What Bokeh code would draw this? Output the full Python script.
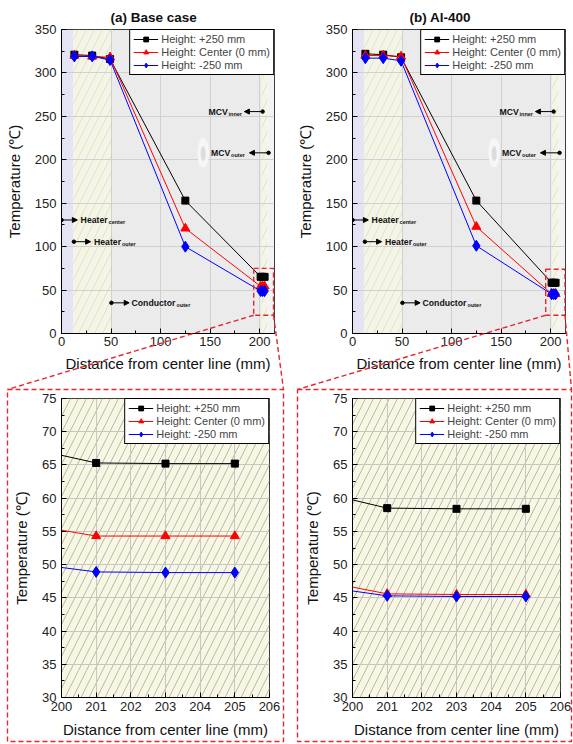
from bokeh.plotting import figure
from bokeh.models import (Range1d, FixedTicker, Legend, LegendItem, Label, Arrow,
                          NormalHead, BoxAnnotation, GridBox)
from bokeh.embed import file_html
from bokeh.resources import INLINE

# ---------------- data ----------------
dist_mm = [13, 31, 49, 125, 201, 203, 205]

base_plus250 = [321, 320, 316, 153, 65.3, 65.2, 65.2]
base_center = [320, 319, 318, 121, 54.3, 54.3, 54.3]
base_minus250 = [319, 319, 315, 100, 48.9, 48.8, 48.8]

al_plus250 = [322, 321, 318, 153, 58.5, 58.4, 58.4]
al_center = [320, 320, 319, 123, 45.6, 45.5, 45.5]
al_minus250 = [317, 317, 314, 101, 45.3, 45.2, 45.2]

series_labels = ["Height: +250 mm", "Height: Center (0 mm)", "Height: -250 mm"]
series_colors = ["black", "red", "blue"]
series_markers = ["square", "triangle", "diamond"]
panel_titles = ["(a) Base case", "(b) Al-400"]

top_x_range = [0, 215]
top_y_range = [0, 350]
top_x_ticks = [0, 50, 100, 150, 200]
top_x_minor = [25, 75, 125, 175]
top_y_ticks = [0, 50, 100, 150, 200, 250, 300, 350]
top_y_minor = [25, 75, 125, 175, 225, 275, 325]
zoom_x_range = [200, 206]
zoom_y_range = [30, 75]
zoom_x_ticks = [200, 201, 202, 203, 204, 205, 206]
zoom_x_minor = [200.5, 201.5, 202.5, 203.5, 204.5, 205.5]
zoom_y_ticks = [30, 35, 40, 45, 50, 55, 60, 65, 70, 75]
zoom_y_minor = [32.5, 37.5, 42.5, 47.5, 52.5, 57.5, 62.5, 67.5, 72.5]

# material regions along the radius (mm)
region_left = [0, 12, 50, 202, 208]
region_right = [12, 50, 202, 208, 215]
region_kind = ["heater_core", "heater", "gap", "mcv", "outside"]

# zoomed window marked on the overview plots (mm, degC)
zoom_box_left = [194, 195]
zoom_box_right = [214, 214.5]
zoom_box_bottom = [21, 21]
zoom_box_top = [75, 74]

# annotation labels
ann_main = ["Heater", "Heater", "Conductor", "MCV", "MCV"]
ann_sub = ["center", "outer", "outer", "inner", "outer"]
ann_dot_x = [0, 12.5, 50.4, 203, 209]
ann_y = [130.7, 105.7, 35.3, 255.5, 208]
ann_head_x = [16, 29.4, 68.3, 184.6, 189.7]
ann_text_x = [19.3, 32.8, 70.7, 148.4, 151]

FONT = "Liberation Sans"
RED = "#e8262a"
DASH = "5 3"

# ---------------- page geometry ----------------
PAGE_W, PAGE_H = 573, 744
COL_W = [287, 286]
TOP_H, BOT_H = 385, 359
TOP_BORDER = [(61, 13), (65, 8)]       # left, right
BOT_BORDER = [(61, 18), (65, 13)]
TOP_TB = (29, 52)                      # top, bottom
BOT_TB = (13, 47)


def style_axes(p, x_ticks, x_minor, y_ticks, y_minor, xl_stand, xa_stand, ya_stand):
    p.xaxis.ticker = FixedTicker(ticks=x_ticks, minor_ticks=x_minor)
    p.yaxis.ticker = FixedTicker(ticks=y_ticks, minor_ticks=y_minor)
    for ax in (p.xaxis[0], p.yaxis[0]):
        ax.major_tick_in = 5
        ax.major_tick_out = 0
        ax.minor_tick_in = 3
        ax.minor_tick_out = 0
        ax.axis_line_color = "black"
        ax.major_tick_line_color = "black"
        ax.minor_tick_line_color = "black"
        ax.major_label_text_font = FONT
        ax.major_label_text_font_size = "13px"
        ax.major_label_text_color = "#222222"
        ax.axis_label_text_font = FONT
        ax.axis_label_text_font_size = "15px"
        ax.axis_label_text_font_style = "normal"
        ax.axis_label_text_color = "#111111"
    p.xaxis.major_label_standoff = xl_stand
    p.xaxis.axis_label_standoff = xa_stand
    p.yaxis.major_label_standoff = 5
    p.yaxis.axis_label_standoff = ya_stand
    p.xaxis.axis_label = "Distance from center line (mm)"
    p.yaxis.axis_label = "Temperature (\u2103)"
    p.outline_line_color = "black"
    p.outline_line_width = 1
    p.outline_line_alpha = 1
    p.grid.grid_line_color = "#d0d0d0"
    p.grid.grid_line_width = 1


def add_series(p, ys_list):
    items = []
    sizes = {"square": 7, "triangle": 9, "diamond": 11}
    for ys, lab, col, mk in zip(ys_list, series_labels, series_colors, series_markers):
        r_line = p.line(dist_mm, ys, line_color=col, line_width=1)
        r_pt = p.scatter(dist_mm, ys, marker=mk, size=sizes[mk], fill_color=col, line_color=col)
        items.append(LegendItem(label=lab, renderers=[r_line, r_pt]))
    leg = Legend(items=items, location="top_right", margin=0, padding=3, spacing=1,
                 label_text_font=FONT, label_text_font_size="11px",
                 label_height=12, glyph_height=12, glyph_width=25, label_standoff=3,
                 border_line_color="black", border_line_width=1, border_line_alpha=1,
                 background_fill_color="white", background_fill_alpha=1)
    p.add_layout(leg)


def make_top(idx, ys_list):
    bl, br = TOP_BORDER[idx]
    p = figure(width=COL_W[idx], height=TOP_H,
               x_range=Range1d(*top_x_range), y_range=Range1d(*top_y_range),
               min_border_left=bl, min_border_right=br,
               min_border_top=TOP_TB[0], min_border_bottom=TOP_TB[1],
               output_backend="svg", toolbar_location=None)
    p.frame_align = False
    style_axes(p, top_x_ticks, top_x_minor, top_y_ticks, top_y_minor, 3, 6, 9)

    fills = {"heater_core": "#e4e4f4", "heater": "#f5f5e6", "gap": "#ebebeb",
             "mcv": "#f5f5e6", "outside": "#f3f3f3"}
    for l, r, k in zip(region_left, region_right, region_kind):
        hatch = "/" if k in ("heater", "mcv") else " "
        p.quad(left=l, right=r, bottom=top_y_range[0], top=top_y_range[1],
               fill_color=fills[k], line_color=None,
               hatch_pattern=hatch, hatch_color="#dcdccb", hatch_scale=16, hatch_weight=0.8,
               level="image")
    # faint oval artefact of the original figure
    p.ellipse(x=143, y=208, width=12, height=34, fill_color="#f6f6f6", line_color=None)
    p.ellipse(x=143, y=207, width=5, height=17, fill_color="#dcdcdc", line_color=None)

    add_series(p, ys_list)

    for main, sub, dx, y, hx, tx in zip(ann_main, ann_sub, ann_dot_x, ann_y, ann_head_x, ann_text_x):
        p.add_layout(Arrow(x_start=dx, y_start=y, x_end=hx, y_end=y, line_color="black",
                           line_width=1, end=NormalHead(size=5, fill_color="black",
                                                        line_color="black")))
        p.scatter([dx], [y], size=3.5, color="black")
        main_w = {"Heater": 28, "Conductor": 45, "MCV": 20}[main]
        p.add_layout(Label(x=tx, y=y, text=main, text_font=FONT, text_font_style="bold",
                           text_font_size="8.7px", text_baseline="middle", text_color="#111111"))
        p.add_layout(Label(x=tx, y=y, x_offset=main_w, y_offset=-2, text=sub, text_font=FONT,
                           text_font_style="bold", text_font_size="5.5px",
                           text_baseline="middle", text_color="#111111"))

    p.title.text = panel_titles[idx]
    p.title.text_font = FONT
    p.title.text_font_style = "bold"
    p.title.text_font_size = "13.5px"
    p.title.text_color = "#111111"
    p.title.align = "left"
    p.title.offset = 49 if idx == 0 else 57
    p.title.standoff = 9

    p.add_layout(BoxAnnotation(left=zoom_box_left[idx], right=zoom_box_right[idx],
                               bottom=zoom_box_bottom[idx], top=zoom_box_top[idx],
                               fill_alpha=0, line_color=RED, line_alpha=1,
                               line_dash=DASH, line_width=1.4, level="overlay"))
    return p


def make_zoom(idx, ys_list):
    bl, br = BOT_BORDER[idx]
    p = figure(width=COL_W[idx], height=BOT_H,
               x_range=Range1d(*zoom_x_range), y_range=Range1d(*zoom_y_range),
               min_border_left=bl, min_border_right=br,
               min_border_top=BOT_TB[0], min_border_bottom=BOT_TB[1],
               output_backend="svg", toolbar_location=None)
    p.frame_align = False
    style_axes(p, zoom_x_ticks, zoom_x_minor, zoom_y_ticks, zoom_y_minor, 4, 7, 9)
    p.grid.grid_line_color = "#c6c6c2"
    p.quad(left=zoom_x_range[0], right=zoom_x_range[1], bottom=zoom_y_range[0],
           top=zoom_y_range[1], fill_color="#f7f7e3", line_color=None,
           hatch_pattern="/", hatch_color="#a8a8a0", hatch_scale=16, hatch_weight=0.8,
           level="image")
    add_series(p, ys_list)
    return p


def top_to_page(idx, x, y):
    """Map overview-plot data coordinates to page pixels (same scales as the top plots)."""
    bl, br = TOP_BORDER[idx]
    fw = COL_W[idx] - bl - br
    fh = TOP_H - TOP_TB[0] - TOP_TB[1]
    x0 = sum(COL_W[:idx]) + bl
    px = x0 + (x - top_x_range[0]) / (top_x_range[1] - top_x_range[0]) * fw
    py = TOP_TB[0] + (top_y_range[1] - y) / (top_y_range[1] - top_y_range[0]) * fh
    return px, py


# transparent overlay for the call-out (dashed box + connector lines)
ov = figure(width=PAGE_W, height=PAGE_H, x_range=Range1d(0, PAGE_W), y_range=Range1d(PAGE_H, 0),
            min_border=0, x_axis_location=None, y_axis_location=None,
            output_backend="svg", toolbar_location=None)
ov.frame_align = False
ov.grid.visible = False
ov.outline_line_color = None
ov.background_fill_alpha = 0
ov.border_fill_alpha = 0

for idx in range(2):
    col_x0 = sum(COL_W[:idx])
    # dashed frame round the zoomed plot
    fx0 = col_x0 + (7 if idx == 0 else 10)
    fx1 = col_x0 + (283 if idx == 0 else 284)
    fy0, fy1 = TOP_H + 4, PAGE_H - 3
    ov.line([fx0, fx1, fx1, fx0, fx0], [fy0, fy0, fy1, fy1, fy0],
            line_color=RED, line_dash=DASH, line_width=1.4)
    # connectors from the marked window to the frame
    lx, by = top_to_page(idx, zoom_box_left[idx], zoom_box_bottom[idx])
    rx, _ = top_to_page(idx, zoom_box_right[idx], zoom_box_bottom[idx])
    ov.line([lx, fx0], [by, fy0], line_color=RED, line_dash=DASH, line_width=1.4)
    ov.line([rx, fx1], [by, fy0], line_color=RED, line_dash=DASH, line_width=1.4)

base = [base_plus250, base_center, base_minus250]
al = [al_plus250, al_center, al_minus250]

tl = make_top(0, base)
tr = make_top(1, al)
bl_ = make_zoom(0, base)
br_ = make_zoom(1, al)

layout = GridBox(children=[(tl, 0, 0), (tr, 0, 1), (bl_, 1, 0), (br_, 1, 1), (ov, 0, 0, 2, 2)],
                 spacing=0)

open("out.html", "w").write(file_html(layout, INLINE))
